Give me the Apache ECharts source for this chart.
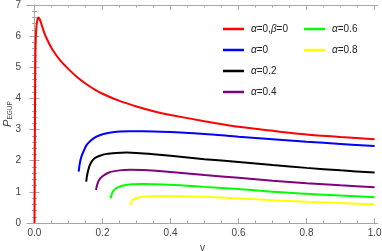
<!DOCTYPE html>
<html><head><meta charset="utf-8">
<script src="https://cdn.jsdelivr.net/npm/echarts@6/dist/echarts.min.js"></script>
<style>html,body{margin:0;padding:0;background:#fff}#c{width:382px;height:251px}</style>
</head><body><div id="c"></div>
<script>
// ---- data ----
const xTickLabels = [0, 0.2, 0.4, 0.6, 0.8, 1.0];
const xMinorTicks = [0,0.05,0.1,0.15,0.2,0.25,0.3,0.35,0.4,0.45,0.5,0.55,0.6,0.65,0.7,0.75,0.8,0.85,0.9,0.95,1.0];
const seriesNames = ['α=0,β=0','α=0','α=0.2','α=0.4','α=0.6','α=0.8'];
const seriesColors = ['#ff0000','#0000ff','#000000','#800080','#00ff00','#ffff00'];

const xRed = [0,0.001,0.002,0.003,0.005,0.008,0.0115,0.015,0.02,0.03,0.04,0.055,0.075,0.1,0.125,0.15,0.175,0.2,0.25,0.3,0.35,0.4,0.5,0.6,0.7,0.8,0.9,1.0];
const yRed = [0,2.5,4.6,5.6,6.2,6.5,6.6,6.55,6.4,6.07,5.83,5.53,5.23,4.94,4.69,4.48,4.3,4.15,3.92,3.74,3.59,3.47,3.27,3.09,2.96,2.84,2.76,2.69];

const xBlue = [0.130,0.133,0.138,0.145,0.153,0.165,0.182,0.2,0.22,0.25,0.28,0.32,0.4,0.5,0.6,0.7,0.8,0.9,1.0];
const yBlue = [1.65,1.9,2.13,2.32,2.5,2.64,2.77,2.85,2.9,2.94,2.95,2.95,2.92,2.86,2.77,2.69,2.61,2.54,2.47];

const xBlack = [0.152,0.155,0.161,0.168,0.177,0.19,0.212,0.24,0.27,0.3,0.35,0.4,0.5,0.6,0.7,0.8,0.9,1.0];
const yBlack = [1.33,1.55,1.81,1.97,2.08,2.15,2.22,2.25,2.26,2.25,2.21,2.16,2.05,1.96,1.86,1.77,1.69,1.62];

const xPurple = [0.181,0.184,0.19,0.2,0.221,0.25,0.28,0.32,0.4,0.5,0.6,0.7,0.8,0.9,1.0];
const yPurple = [1.06,1.22,1.38,1.5,1.63,1.69,1.71,1.70,1.64,1.54,1.45,1.36,1.28,1.21,1.15];

const xGreen = [0.224,0.227,0.232,0.241,0.255,0.28,0.32,0.38,0.45,0.5,0.6,0.7,0.8,0.9,1.0];
const yGreen = [0.79,0.92,1.03,1.12,1.19,1.24,1.25,1.24,1.2,1.16,1.09,1.0,0.94,0.88,0.83];

const xYellow = [0.282,0.285,0.29,0.3,0.32,0.36,0.4,0.5,0.6,0.7,0.8,0.9,1.0];
const yYellow = [0.58,0.68,0.75,0.8,0.84,0.87,0.87,0.84,0.79,0.73,0.68,0.64,0.60];

const xs = [xRed,xBlue,xBlack,xPurple,xGreen,xYellow];
const ys = [yRed,yBlue,yBlack,yPurple,yGreen,yYellow];

// ---- chart ----
const frame = '#a6a6a6';
const lbl = '#444';
const font = 'Liberation Sans, Arial, sans-serif';
const xMin = -0.022, xMax = 1.01;

function xAx(pos, minor, labels) {
  return {
    type: 'value', position: pos, min: xMin, max: xMax,
    axisLine: { show: !minor, lineStyle: { color: frame, width: 1 } },
    axisTick: { show: true, inside: true, length: minor ? 2.5 : 5,
      customValues: minor ? xMinorTicks : xTickLabels, lineStyle: { color: frame } },
    axisLabel: labels ? { show: true, customValues: xTickLabels, color: lbl, fontSize: 10, fontFamily: font, margin: 5,
      formatter: v => Number(v).toFixed(1) } : { show: false },
    splitLine: { show: false },
    name: labels ? 'v' : '', nameLocation: 'middle', nameGap: 20, nameMoveOverlap: false,
    nameTextStyle: { color: lbl, fontSize: 10, fontFamily: font }
  };
}
function yAx(pos, labels) {
  return {
    type: 'value', position: pos, min: 0, max: 7, interval: 1,
    axisLine: { show: true, lineStyle: { color: frame, width: 1 } },
    axisTick: { show: true, inside: true, length: 5, lineStyle: { color: frame } },
    minorTick: { show: true, splitNumber: 5, length: 2.5, lineStyle: { color: frame } },
    axisLabel: { show: labels, color: lbl, fontSize: 10, fontFamily: font, margin: 6 },
    splitLine: { show: false },
    name: labels ? '{p|P}{s|EGUP}' : '', nameLocation: 'middle', nameGap: 13, nameRotate: 90,
    nameMoveOverlap: false,
    nameTextStyle: { rich: {
      p: { fontSize: 11, fontStyle: 'italic', color: lbl, fontFamily: font, lineHeight: 12 },
      s: { fontSize: 6.5, color: lbl, fontFamily: font, lineHeight: 12, padding: [5,0,0,0] }
    } }
  };
}

const series = seriesNames.map((n, i) => ({
  name: n, type: 'line', xAxisIndex: 0, yAxisIndex: 0,
  data: xs[i].map((x, j) => [x, ys[i][j]]),
  showSymbol: false, symbol: 'none', smooth: 0.25,
  lineStyle: { color: seriesColors[i], width: 2 }, itemStyle: { color: seriesColors[i] },
  animation: false, clip: true
}));

const legendCommon = {
  orient: 'vertical', icon: 'rect', itemWidth: 21, itemHeight: 2.5, itemGap: 7, padding: 0,
  textStyle: { color: '#222', fontSize: 10, fontFamily: font, lineHeight: 14, padding: [0,0,0,2],
    rich: { g: { fontStyle: 'italic', fontSize: 10, fontFamily: font, color: '#222' } } },
  formatter: n => n.replace(/([αβ])/g, '{g|$1}')
};

const chart = echarts.init(document.getElementById('c'), null, { renderer: 'canvas' });
chart.setOption({
  animation: false,
  backgroundColor: '#fff',
  grid: { left: 27, right: 4, top: 5, bottom: 28, containLabel: false, outerBoundsMode: 'none' },
  xAxis: [xAx('bottom', false, true), xAx('bottom', true, false), xAx('top', false, false), xAx('top', true, false)],
  yAxis: [yAx('left', true), yAx('right', false)],
  legend: [
    Object.assign({ left: 223, top: 22, data: seriesNames.slice(0, 4) }, legendCommon),
    Object.assign({ left: 304, top: 22, data: seriesNames.slice(4) }, legendCommon)
  ],
  series: series
});
</script></body></html>
